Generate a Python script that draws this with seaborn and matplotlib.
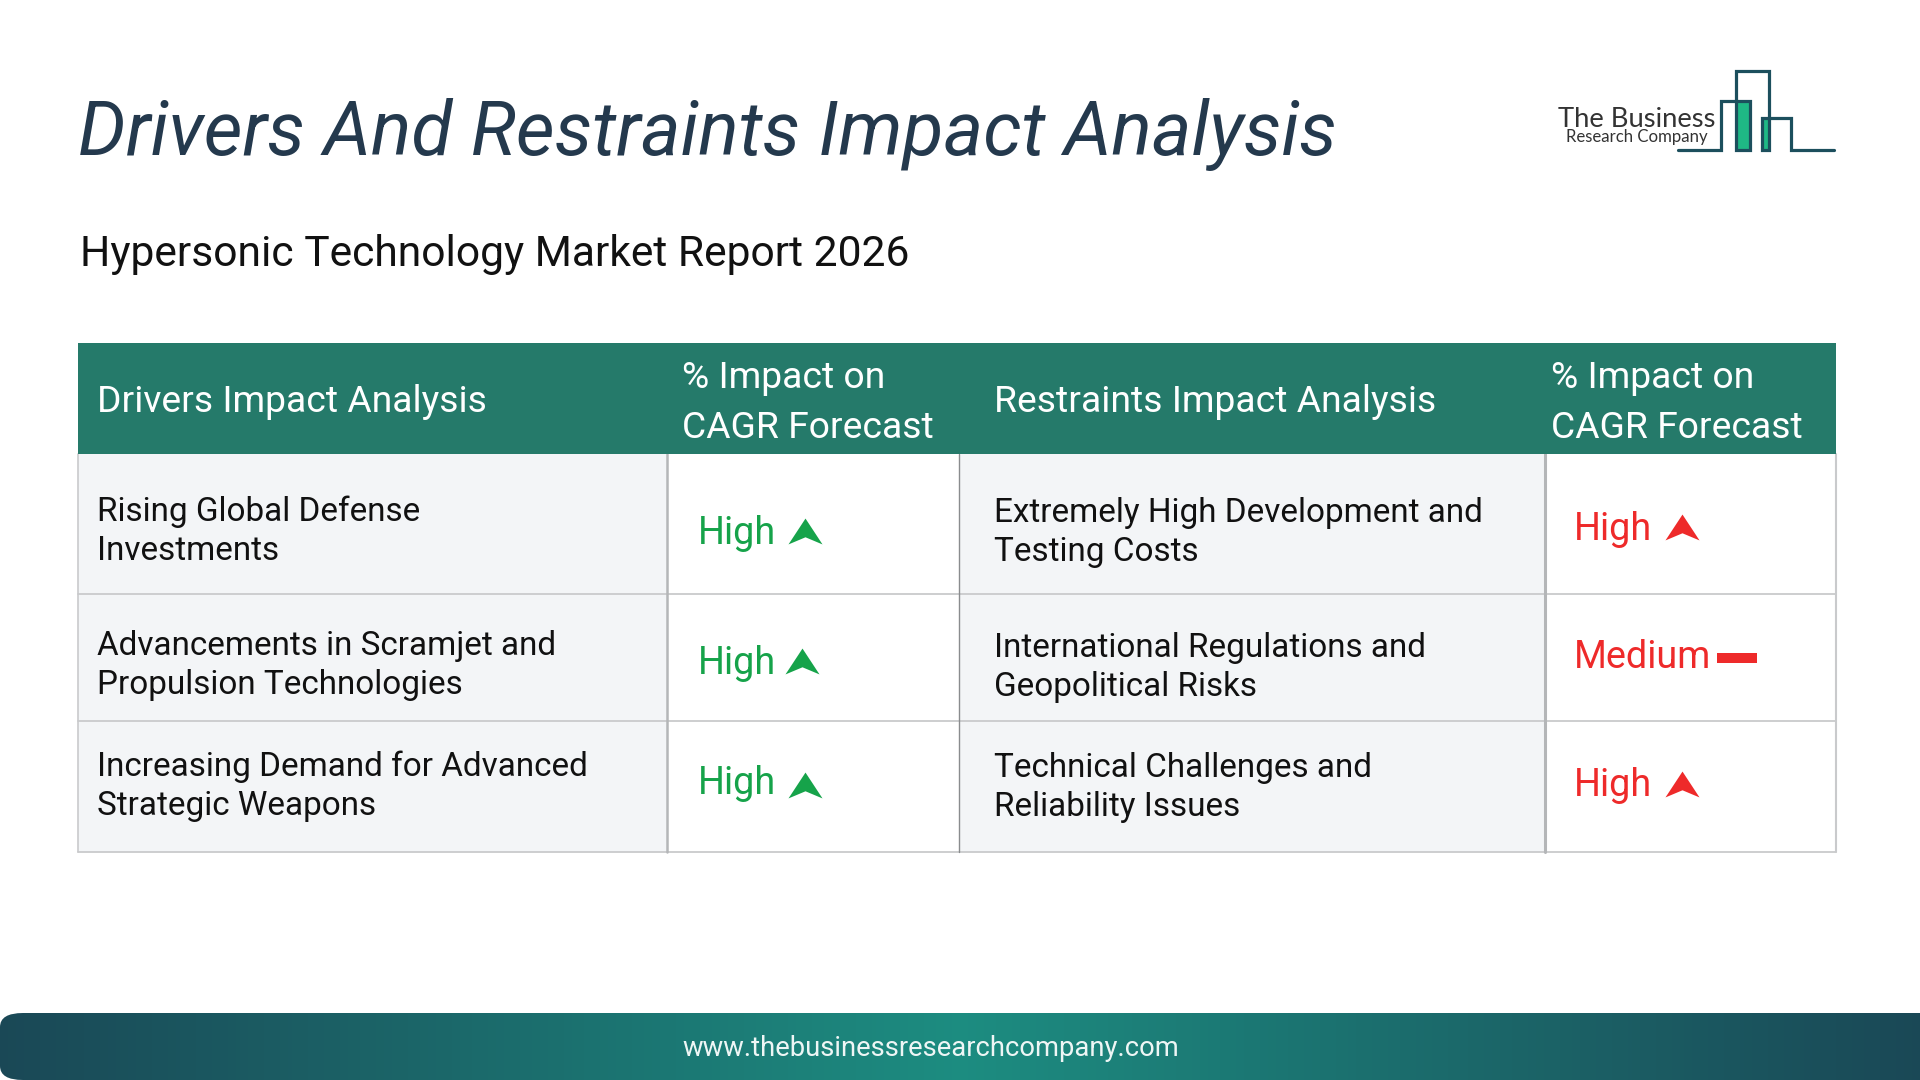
import numpy as np
import pandas as pd
import seaborn as sns
import matplotlib
matplotlib.use("Agg")
import matplotlib.pyplot as plt
from matplotlib.patches import Rectangle, FancyBboxPatch
from matplotlib.path import Path

# Text content
title = 'Drivers And Restraints Impact Analysis'
subtitle = 'Hypersonic Technology Market Report 2026'
footer = 'www.thebusinessresearchcompany.com'
headers = ['Drivers Impact Analysis', ['% Impact on', 'CAGR Forecast'],
           'Restraints Impact Analysis', ['% Impact on', 'CAGR Forecast']]
drivers = [['Rising Global Defense', 'Investments'],
           ['Advancements in Scramjet and', 'Propulsion Technologies'],
           ['Increasing Demand for Advanced', 'Strategic Weapons']]
restraints = [['Extremely High Development and', 'Testing Costs'],
              ['International Regulations and', 'Geopolitical Risks'],
              ['Technical Challenges and', 'Reliability Issues']]
driver_impact = ['High', 'High', 'High']
restraint_impact = ['High', 'Medium', 'High']

# Layout, pixels of the 1920x1080 page
col_edges = [77.5, 667, 959, 1545, 1836]
row_edges = [343, 453.5, 594, 721, 851.5]
driver_base = [(521, 560), (655, 694), (776, 815)]
restraint_base = [(522, 561), (657, 696), (777, 816)]
driver_impact_base = [544.5, 674.5, 794.5]
restraint_impact_base = [539.5, 668.5, 796.5]
driver_icon_y = [531, 661, 785]
driver_icon_x = [805, 802, 805]
restraint_icon_y = [527, 658, 784]
restraint_icon_x = [1682, 1737, 1682]

GREEN = '#16a34a'
RED = '#ee2a2a'
TEAL = '#257a6a'
DARK = '#1c4f5d'

sns.set_theme(style='white')
plt.rcParams['font.family'] = ['Roboto', 'DejaVu Sans']
fig = plt.figure(figsize=(19.2, 10.8), dpi=100, facecolor='white')
ax = fig.add_axes([0, 0, 1, 1])
ax.set_xlim(0, 1920)
ax.set_ylim(1080, 0)
ax.axis('off')

ax.text(78, 155, title, fontsize=54.2, style='italic', color='#24394d', va='baseline')
ax.text(80, 266, subtitle, fontsize=30.7, color='#111111', va='baseline')

# Table fills
left, c1, c2, c3, right = col_edges
top, head, r1, r2, bottom = row_edges
ax.add_patch(Rectangle((left, head), c1 - left, bottom - head, fc='#f3f5f7', ec='none'))
ax.add_patch(Rectangle((c2, head), c3 - c2, bottom - head, fc='#f3f5f7', ec='none'))
ax.add_patch(Rectangle((left, top), right - left, head - top, fc=TEAL, ec='none', zorder=3))

# Grid lines
for y in [r1, r2, bottom]:
    ax.plot([left, right], [y, y], color='#c9cacc', lw=1.3, zorder=2)
ax.plot([left, left], [head, bottom], color='#c9cacc', lw=1.2, zorder=2)
ax.plot([right, right], [head, bottom], color='#c9cacc', lw=1.5, zorder=2)
ax.plot([c1, c1], [head, bottom], color='#b4b6b8', lw=1.8, zorder=2)
ax.plot([c2, c2], [head, bottom], color='#8a8c8e', lw=1.0, zorder=2)
ax.plot([c3, c3], [head, bottom], color='#b4b6b8', lw=2.2, zorder=2)

# Header text
HEAD_FS = 26.85
ax.text(97, 412, headers[0], fontsize=HEAD_FS, color='white', zorder=4)
ax.text(994, 412, headers[2], fontsize=HEAD_FS, color='white', zorder=4)
for x, lines in zip([682, 1551], [headers[1], headers[3]]):
    ax.text(x, 388.5, lines[0], fontsize=HEAD_FS, color='white', zorder=4)
    ax.text(x, 437.5, lines[1], fontsize=HEAD_FS, color='white', zorder=4)

# Body text
BODY_FS = 23.95
for lines, base in zip(drivers, driver_base):
    for line, y in zip(lines, base):
        ax.text(97, y, line, fontsize=BODY_FS, color='#111111')
for lines, base in zip(restraints, restraint_base):
    for line, y in zip(lines, base):
        ax.text(994, y, line, fontsize=BODY_FS, color='#111111')

# Impact labels and icons
IMPACT_FS = 27.2
for label, y in zip(driver_impact, driver_impact_base):
    ax.text(698, y, label, fontsize=IMPACT_FS, color=GREEN)
for label, y in zip(restraint_impact, restraint_impact_base):
    ax.text(1574, y, label, fontsize=IMPACT_FS, color=RED)

up_arrow = Path([(-1, -0.76), (0, 0.76), (1, -0.76), (0, -0.34), (-1, -0.76)], closed=True)
dash = Path([(-1, -0.25), (1, -0.25), (1, 0.25), (-1, 0.25), (-1, -0.25)], closed=True)
icons = pd.DataFrame({'x': driver_icon_x + restraint_icon_x,
                      'y': driver_icon_y + restraint_icon_y,
                      'impact': driver_impact + restraint_impact,
                      'side': ['Drivers'] * 3 + ['Restraints'] * 3})
for (side, impact), part in icons.groupby(['side', 'impact']):
    medium = impact == 'Medium'
    sns.scatterplot(data=part, x='x', y='y', ax=ax, legend=False, linewidth=0,
                    marker=dash if medium else up_arrow, s=830 if medium else 600,
                    color=GREEN if side == 'Drivers' else RED, zorder=5)
ax.set_xlim(0, 1920)
ax.set_ylim(1080, 0)
ax.axis('off')

# Logo
sky_x = [1678, 1721, 1721, 1750, 1750, 1736, 1736, 1769, 1769, 1762, 1762, 1791, 1791, 1834]
sky_y = [150, 150, 101, 101, 150, 150, 71, 71, 150, 150, 117.5, 117.5, 150, 150]
ax.add_patch(Rectangle((1737.5, 102), 12, 48, fc='#1fb885', ec='none'))
ax.add_patch(Rectangle((1763, 118), 5.5, 32, fc='#1fb885', ec='none'))
ax.plot(sky_x, sky_y, color=DARK, lw=2.3, solid_joinstyle='miter')
ax.text(1558, 127, 'The Business', fontsize=19.7, family='Lato', color='#333333')
ax.text(1566, 142, 'Research Company', fontsize=12.1, family='Lato', color='#333333')

# Footer gradient band
band = fig.add_axes([0, 0, 1, 67 / 1080])
shade = sns.blend_palette(['#1a4856', '#1c8c80', '#1a4856'], as_cmap=True)
sns.heatmap(np.linspace(0, 1, 480).reshape(1, -1), ax=band, cmap=shade, cbar=False,
            xticklabels=False, yticklabels=False, rasterized=True)
band.set_xlim(0, 480)
clip = FancyBboxPatch((0, 0), 1.2, 1, boxstyle='round,pad=0,rounding_size=0.012',
                      transform=band.transAxes, fc='none', ec='none', mutation_aspect=18)
band.add_patch(clip)
band.collections[0].set_clip_path(clip)
band.axis('off')
ax.text(930.5, 1049, footer, fontsize=19.75, color='#eef6f5', ha='center', va='center', zorder=6)
ax.set_zorder(band.get_zorder() + 1)
ax.patch.set_alpha(0)

fig.savefig('out.png', dpi=100, facecolor='white')
